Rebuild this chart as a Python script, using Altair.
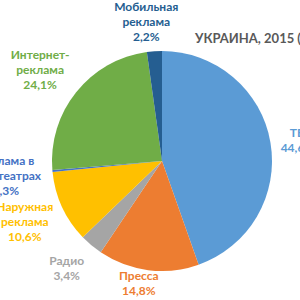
import altair as alt
import pandas as pd
import numpy as np

# data (clockwise from 12 o'clock)
categories = ["ТВ", "Пресса", "Радио", "Наружная реклама", "Реклама в кинотеатрах", "Интернет-реклама", "Мобильная реклама"]
values = [44.6, 14.8, 3.4, 10.6, 0.3, 24.1, 2.2]
labels = ["ТВ\n44,6%", "Пресса\n14,8%", "Радио\n3,4%", "Наружная\nреклама\n10,6%",
          "Реклама в\nкинотеатрах\n0,3%", "Интернет-\nреклама\n24,1%", "Мобильная\nреклама\n2,2%"]
title_text = "УКРАИНА, 2015 (%)"

# styles
slice_colors = ["#5B9BD5", "#ED7D31", "#A5A5A5", "#FFC000", "#4472C4", "#70AD47", "#255E91"]
label_colors = ["#5B9BD5", "#ED7D31", "#A5A5A5", "#FFC000", "#2E75B6", "#70AD47", "#2F5F8F"]
label_dtheta = [1.0, 3.5, 1.5, 1.0, -0.3, -2.0, -2.5]   # degrees
label_radius = [137, 125, 144, 150, 157, 152, 140]
LINE_H = 15

CX, CY, R = 162, 161, 110

df = pd.DataFrame({"cat": categories, "value": values, "label": labels})
df["order"] = range(len(df))
total = df["value"].sum()
cum = np.cumsum(df["value"]) / total * 360
mid = cum - df["value"] / total * 360 / 2
ang = np.radians(mid + np.array(label_dtheta))
rad = np.array(label_radius, dtype=float)
# centre of each label block, relative to the pie centre
dx = rad * np.sin(ang)
dy = -rad * np.cos(ang)
# vega anchors a multi-line text by its first line: move anchor up
nlines = np.array([l.count("\n") + 1 for l in labels])
dy = dy - (nlines - 1) * LINE_H / 2
df["label_theta"] = np.arctan2(dx, -dy)
df["label_r"] = np.hypot(dx, dy)

color_scale = alt.Scale(domain=categories, range=slice_colors)
label_scale = alt.Scale(domain=categories, range=label_colors)

pie = alt.Chart(df).mark_arc(outerRadius=R, stroke=None).encode(
    theta=alt.Theta("value:Q", stack=True),
    color=alt.Color("cat:N", scale=color_scale, legend=None),
    order=alt.Order("order:Q"),
    x=alt.value(CX),
    y=alt.value(CY),
)

text = alt.Chart(df).mark_text(
    font="Lato", fontWeight="bold", fontSize=12, lineBreak="\n", lineHeight=LINE_H,
    align="center", baseline="middle"
).encode(
    theta=alt.Theta("label_theta:Q", scale=None, stack=False),
    radius=alt.Radius("label_r:Q", scale=None),
    text="label:N",
    color=alt.Color("cat:N", scale=label_scale, legend=None),
    x=alt.value(CX),
    y=alt.value(CY),
)

title = alt.Chart(pd.DataFrame({"t": [title_text]})).mark_text(
    font="Lato", fontWeight="bold", fontSize=13, align="left", baseline="alphabetic", color="#595959"
).encode(
    text="t:N",
    x=alt.value(195),
    y=alt.value(43),
)

chart = alt.layer(pie, text, title).properties(
    width=300, height=300, padding=0, autosize=alt.AutoSizeParams(type="none")
).configure_view(stroke=None)

chart.save("out.html", embed_options={"renderer": "svg", "actions": False})
